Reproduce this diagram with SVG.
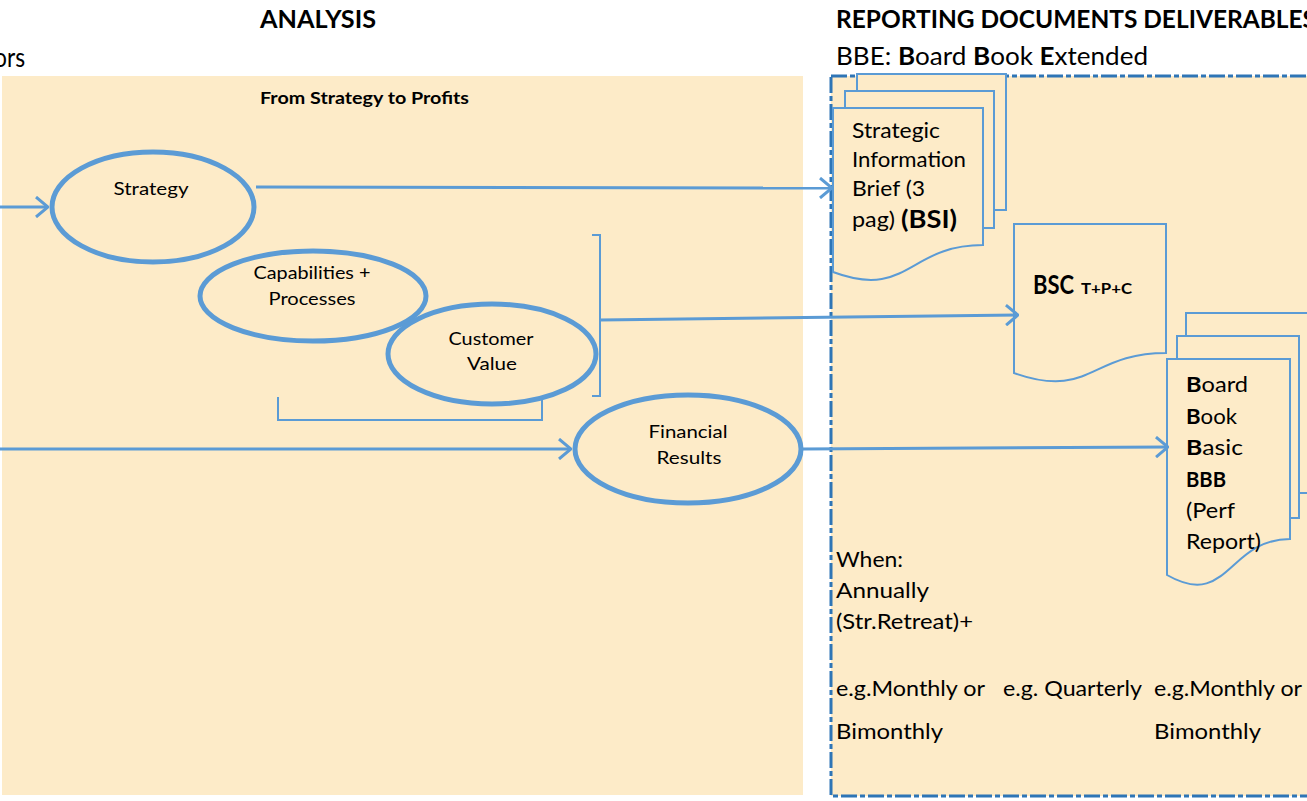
<svg xmlns="http://www.w3.org/2000/svg" width="1307" height="801" viewBox="0 0 1307 801">
<defs>
<style>
text{font-family:Lato,"Liberation Sans",sans-serif;fill:#000}
.b{font-weight:bold}
.ell{fill:#FDEBC8;stroke:#5B9BD5;stroke-width:5}
.doc{fill:#FDEBC8;stroke:#5B9BD5;stroke-width:2}
.con{fill:none;stroke:#5B9BD5;stroke-width:3}
.brk{fill:none;stroke:#5B9BD5;stroke-width:2}
.lbl{font-size:18px;text-anchor:middle}
.dt{font-size:21px}
</style>
<marker id="ah" viewBox="0 0 14 22" refX="13" refY="11" markerWidth="14" markerHeight="22" markerUnits="userSpaceOnUse" orient="auto">
<path d="M1,1 L13,11 L1,21" fill="none" stroke="#5B9BD5" stroke-width="3"/>
</marker>
</defs>
<rect width="1307" height="801" fill="#fff"/>

<g id="headers">
<text class="b" x="260" y="28" font-size="25" textLength="116" lengthAdjust="spacingAndGlyphs">ANALYSIS</text>
<text class="b" x="836" y="28" font-size="25" textLength="480" lengthAdjust="spacingAndGlyphs">REPORTING DOCUMENTS DELIVERABLES</text>
<text x="-6" y="67" font-size="26" textLength="31" lengthAdjust="spacingAndGlyphs">ors</text>
<text x="836" y="65" font-size="25" textLength="312" lengthAdjust="spacingAndGlyphs">BBE: <tspan class="b">B</tspan>oard <tspan class="b">B</tspan>ook <tspan class="b">E</tspan>xtended</text>
</g>

<g id="analysis-panel">
<rect x="2" y="76" width="801" height="719" fill="#FDEBC8"/>
<text class="b" x="260" y="104" font-size="17" textLength="209" lengthAdjust="spacingAndGlyphs">From Strategy to Profits</text>
</g>

<g id="deliverables-panel">
<rect x="831" y="76" width="490" height="720" fill="#FDEBC8" stroke="#2E75B6" stroke-width="3" stroke-dasharray="16 3 5 3"/>
</g>

<g id="strategy">
<ellipse class="ell" cx="153" cy="207" rx="101" ry="55"/>
<text class="lbl" x="151" y="195" textLength="75" lengthAdjust="spacingAndGlyphs">Strategy</text>
</g>
<g id="capabilities">
<ellipse class="ell" cx="313" cy="296" rx="113" ry="45"/>
<text class="lbl" x="312" y="279" textLength="117" lengthAdjust="spacingAndGlyphs">Capabilities +</text>
<text class="lbl" x="312" y="305" textLength="87" lengthAdjust="spacingAndGlyphs">Processes</text>
</g>
<g id="customer-value">
<ellipse class="ell" cx="492" cy="354" rx="104" ry="50"/>
<text class="lbl" x="491" y="345" textLength="85" lengthAdjust="spacingAndGlyphs">Customer</text>
<text class="lbl" x="492" y="370" textLength="50" lengthAdjust="spacingAndGlyphs">Value</text>
</g>
<g id="financial-results">
<ellipse class="ell" cx="688" cy="449" rx="113" ry="54"/>
<text class="lbl" x="688" y="438" textLength="79" lengthAdjust="spacingAndGlyphs">Financial</text>
<text class="lbl" x="689" y="464" textLength="65" lengthAdjust="spacingAndGlyphs">Results</text>
</g>

<g id="brackets">
<path class="brk" d="M592,235 H600 V396 H592"/>
<path class="brk" d="M278,397 V420 H542 V400"/>
</g>

<g id="bsi">
<rect class="doc" x="857" y="74" width="149" height="136"/>
<rect class="doc" x="845" y="91" width="149" height="137"/>
<path class="doc" d="M833,108 H983 V245 C908,245 908,300 833,272 Z"/>
<text class="dt" x="852" y="138" textLength="88" lengthAdjust="spacingAndGlyphs">Strategic</text>
<text class="dt" x="852" y="167" textLength="114" lengthAdjust="spacingAndGlyphs">Information</text>
<text class="dt" x="852" y="196" textLength="73" lengthAdjust="spacingAndGlyphs">Brief (3</text>
<text class="dt" x="852" y="227" textLength="43" lengthAdjust="spacingAndGlyphs">pag)</text>
<text class="b" x="901" y="228" font-size="25" textLength="56" lengthAdjust="spacingAndGlyphs">(BSI)</text>
</g>

<g id="bsc">
<path class="doc" d="M1014,224 H1166 V353 C1090,353 1090,400 1014,373 Z"/>
<text class="b" x="1033" y="294" font-size="26" textLength="41" lengthAdjust="spacingAndGlyphs">BSC</text>
<text class="b" x="1081" y="294" font-size="16" textLength="51" lengthAdjust="spacingAndGlyphs">T+P+C</text>
</g>

<g id="bbb">
<rect class="doc" x="1186" y="313" width="130" height="180"/>
<rect class="doc" x="1177" y="336" width="122" height="182"/>
<path class="doc" d="M1167,359 H1290 V539 C1228,539 1228,610 1167,575 Z"/>
<text class="dt" x="1186" y="392" textLength="62" lengthAdjust="spacingAndGlyphs"><tspan class="b">B</tspan>oard</text>
<text class="dt" x="1186" y="424" textLength="51" lengthAdjust="spacingAndGlyphs"><tspan class="b">B</tspan>ook</text>
<text class="dt" x="1186" y="455" textLength="57" lengthAdjust="spacingAndGlyphs"><tspan class="b">B</tspan>asic</text>
<text class="dt b" x="1186" y="487" textLength="40" lengthAdjust="spacingAndGlyphs">BBB</text>
<text class="dt" x="1186" y="518" textLength="49" lengthAdjust="spacingAndGlyphs">(Perf</text>
<text class="dt" x="1186" y="549" textLength="75" lengthAdjust="spacingAndGlyphs">Report)</text>
</g>

<g id="frequency-notes">
<text class="dt" x="836" y="567" textLength="67" lengthAdjust="spacingAndGlyphs">When:</text>
<text class="dt" x="836" y="598" textLength="93" lengthAdjust="spacingAndGlyphs">Annually</text>
<text class="dt" x="836" y="629" textLength="137" lengthAdjust="spacingAndGlyphs">(Str.Retreat)+</text>
<text class="dt" x="836" y="696" textLength="149" lengthAdjust="spacingAndGlyphs">e.g.Monthly or</text>
<text class="dt" x="1003" y="696" textLength="139" lengthAdjust="spacingAndGlyphs">e.g. Quarterly</text>
<text class="dt" x="1154" y="696" textLength="148" lengthAdjust="spacingAndGlyphs">e.g.Monthly or</text>
<text class="dt" x="836" y="739" textLength="107" lengthAdjust="spacingAndGlyphs">Bimonthly</text>
<text class="dt" x="1154" y="739" textLength="107" lengthAdjust="spacingAndGlyphs">Bimonthly</text>
</g>

<g id="connectors">
<line class="con" x1="0" y1="207" x2="48" y2="207" marker-end="url(#ah)"/>
<line class="con" x1="256" y1="187" x2="832" y2="188" marker-end="url(#ah)"/>
<line class="con" x1="600" y1="320" x2="1018" y2="315" marker-end="url(#ah)"/>
<line class="con" x1="0" y1="449" x2="571" y2="449" marker-end="url(#ah)"/>
<line class="con" x1="803" y1="449" x2="1168" y2="447" marker-end="url(#ah)"/>
</g>
</svg>
